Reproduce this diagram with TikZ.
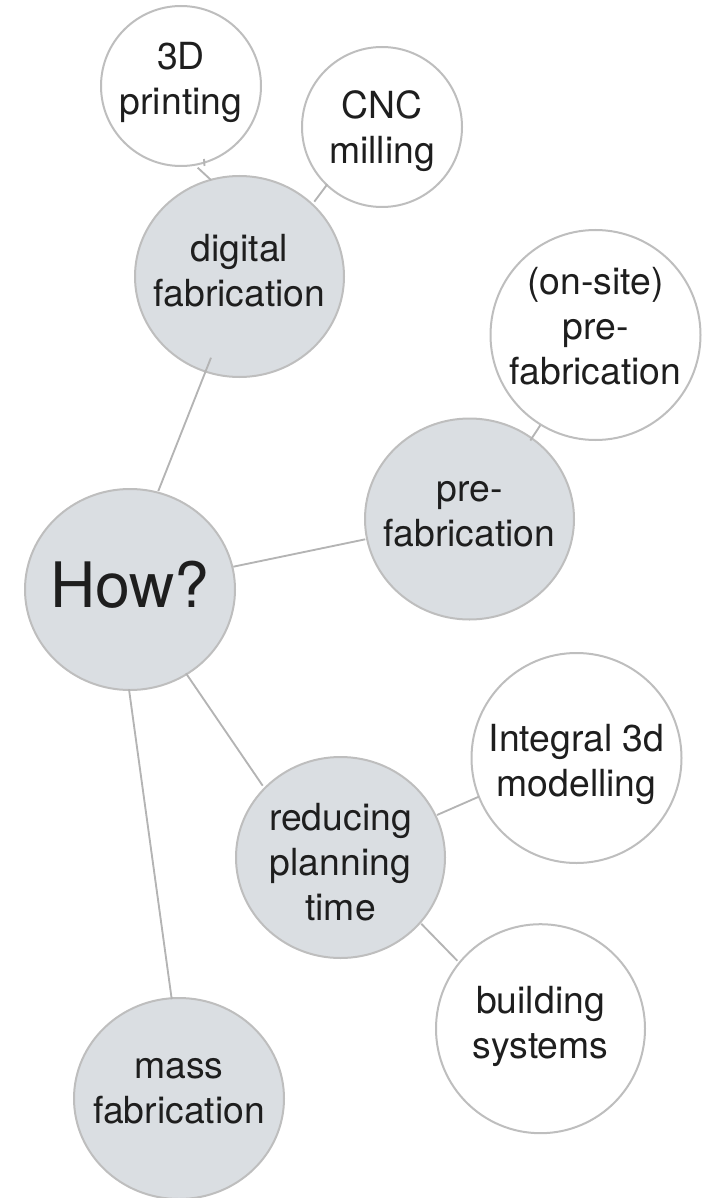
\documentclass[tikz,border=0pt]{standalone}
\usepackage{fontspec}
\setmainfont{TeX Gyre Heros}
\usetikzlibrary{shapes.geometric}
\definecolor{bubblefill}{RGB}{218,222,226}
\definecolor{bubbleedge}{RGB}{190,190,190}
\definecolor{linkgrey}{RGB}{180,180,180}
\definecolor{inkdark}{RGB}{30,30,30}

\begin{document}
\begin{tikzpicture}[x=0.75pt,y=-0.75pt,
  bubble/.style={ellipse, draw=bubbleedge, line width=1.5pt, inner sep=0pt, outer sep=0pt},
  topic/.style={bubble, fill=bubblefill, minimum width=156.75pt, minimum height=150.75pt},
  leaf/.style={bubble, fill=white, minimum width=#1, minimum height=#1},
  words/.style={align=center, text=inkdark, inner sep=0pt,
    font=\fontsize{28}{33.75}\selectfont},
  bigwords/.style={words, font=\fontsize{47}{50}\selectfont},
  link/.style={draw=linkgrey, line width=1.4pt}
]
\useasboundingbox (0,0) rectangle (706,1198);

% bubbles
\node[leaf=120pt] (print) at (181,86) {};
\node[leaf=120pt] (cnc) at (382,127) {};
\node[topic] (dig) at (239.5,276.5) {};
\node[leaf=157.5pt] (onsite) at (595.5,335) {};
\node[topic] (pre) at (469.5,519) {};
\node[topic, minimum width=157.5pt] (how) at (130,589.5) {};
\node[leaf=157.5pt] (integ) at (576.5,758) {};
\node[topic] (red) at (340.5,857.5) {};
\node[leaf=156.75pt] (bld) at (540.5,1028.7) {};
\node[topic, minimum width=157.5pt] (mass) at (179,1098.5) {};

% captions
\node[words] (print-t) at ([shift={(0,-4)}]print.center) {3D\\printing};
\node[words] (cnc-t) at ([shift={(0,4)}]cnc.center) {CNC\\milling};
\node[words] (dig-t) at ([shift={(0,-6)}]dig.center) {digital\\fabrication};
\node[words] (onsite-t) at ([shift={(0,-9)}]onsite.center) {(on-site)\\pre-\\fabrication};
\node[words] (pre-t) at ([shift={(0,-5)}]pre.center) {pre-\\fabrication};
\node[bigwords] (how-t) at ([shift={(0,-5)}]how.center) {How?};
\node[words] (integ-t) at ([shift={(0,6)}]integ.center) {Integral 3d\\modelling};
\node[words] (red-t) at ([shift={(0,5)}]red.center) {reducing\\planning\\time};
\node[words] (bld-t) at ([shift={(0,-2.5)}]bld.center) {building\\systems};
\node[words] (mass-t) at ([shift={(0,-7)}]mass.center) {mass\\fabrication};

% connectors
\draw[link] ([shift={(16.7,81.7)}]print.center) -- ([shift={(-28.5,-96.5)}]dig.center);
\draw[link] ([shift={(23,73)}]print.center) -- ([shift={(23.5,80)}]print.center);
\draw[link] ([shift={(-54.7,57.3)}]cnc.center) -- ([shift={(74.8,-74.8)}]dig.center);
\draw[link] ([shift={(-28.5,81.2)}]dig.center) -- ([shift={(28.3,-98.5)}]how.center);
\draw[link] ([shift={(103.3,-22.8)}]how.center) -- ([shift={(-104.2,20.3)}]pre.center);
\draw[link] ([shift={(56,83.8)}]how.center) -- ([shift={(-77.8,-71.8)}]red.center);
\draw[link] ([shift={(-1,99.8)}]how.center) -- ([shift={(-7.3,-99.5)}]mass.center);
\draw[link] ([shift={(60.8,-78.5)}]pre.center) -- ([shift={(-55.2,90.3)}]onsite.center);
\draw[link] ([shift={(96.5,-42.5)}]red.center) -- ([shift={(-97.7,38.7)}]integ.center);
\draw[link] ([shift={(80.8,66.3)}]red.center) -- ([shift={(-83.1,-67.9)}]bld.center);
\end{tikzpicture}
\end{document}
